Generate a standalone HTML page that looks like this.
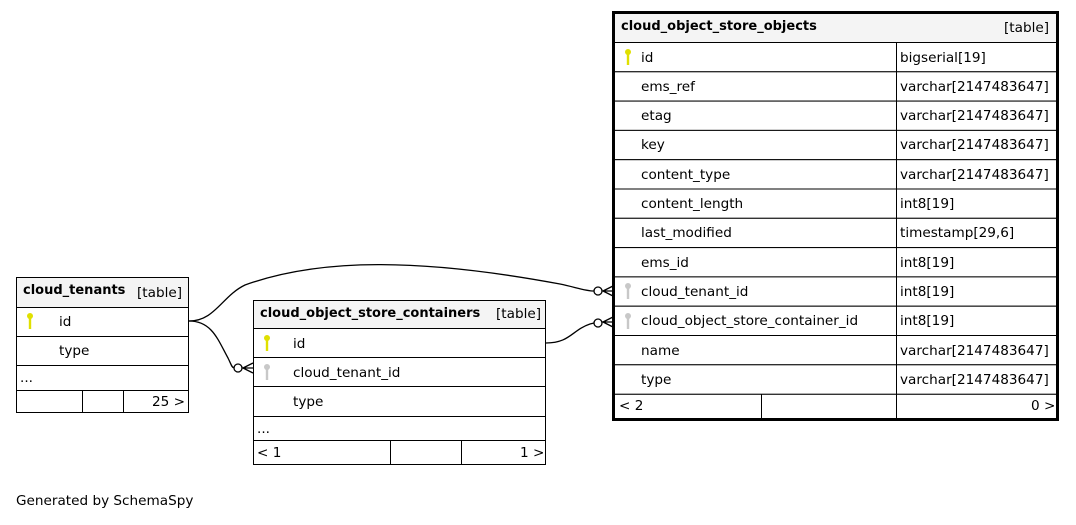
<!DOCTYPE html>
<html><head><meta charset="utf-8"><style>
body{margin:0;background:#fff;width:1076px;height:520px;overflow:hidden}
svg text{font-family:"DejaVu Sans","Liberation Sans",sans-serif;font-size:13.6px;fill:#000}
.b{font-weight:bold;font-size:13px}
</style></head><body>
<svg width="1076" height="520" viewBox="0 0 1076 520" xmlns="http://www.w3.org/2000/svg">
<defs>
<g id="key"><circle cx="0" cy="-4" r="3" fill="currentColor"/><rect x="-1.2" y="-2" width="2.4" height="11" fill="currentColor"/></g>
</defs>
<g fill="none" stroke="#000" stroke-width="1.3">
<path d="M189,321 C215,321 222,296 245,285 C320,258 420,258 560,284 C575,287 585,291 594,291"/>
<circle cx="598" cy="291" r="4" fill="#fff"/>
<path d="M602,291 L613,291 M603,291 L613,286 M603,291 L613,296"/>
<path d="M189,321 C212,321 218,340 228,358 C231,364 232,368 234,368"/>
<circle cx="238" cy="368" r="4" fill="#fff"/>
<path d="M242,368 L253,368 M243,368 L253,363 M243,368 L253,373"/>
<path d="M546,343 C570,343 572,330 590,324 L594,323"/>
<circle cx="598" cy="323" r="4" fill="#fff"/>
<path d="M602,322 L613,322 M603,322 L613,317 M603,322 L613,327"/>
</g>

<g stroke="#000" stroke-width="1" fill="none">
<rect x="16.5" y="277.5" width="172" height="30" fill="#f4f4f4"/>
<rect x="16.5" y="307.5" width="172" height="29" fill="#fff"/>
<rect x="16.5" y="336.5" width="172" height="29" fill="#fff"/>
<rect x="16.5" y="365.5" width="172" height="25" fill="#fff"/>
<rect x="16.5" y="390.5" width="172" height="22" fill="#fff"/>
<path d="M82.5,390.5V412.5M123.5,390.5V412.5"/>
</g>
<text x="23" y="294" class="b">cloud_tenants</text><text x="137" y="297">[table]</text>
<use href="#key" x="30" y="320" style="color:#e0e000"/>
<text x="59" y="326">id</text><text x="59" y="355">type</text>
<text x="20" y="382">...</text><text x="152" y="406">25 &gt;</text>

<g stroke="#000" stroke-width="1" fill="none">
<rect x="253.5" y="300.5" width="292" height="28" fill="#f4f4f4"/>
<rect x="253.5" y="328.5" width="292" height="29" fill="#fff"/>
<rect x="253.5" y="357.5" width="292" height="29" fill="#fff"/>
<rect x="253.5" y="386.5" width="292" height="30" fill="#fff"/>
<rect x="253.5" y="416.5" width="292" height="24" fill="#fff"/>
<rect x="253.5" y="440.5" width="292" height="24" fill="#fff"/>
<path d="M390.5,440.5V464.5M461.5,440.5V464.5"/>
</g>
<text x="260" y="317" class="b">cloud_object_store_containers</text><text x="496" y="318">[table]</text>
<use href="#key" x="267" y="342" style="color:#e0e000"/>
<use href="#key" x="267" y="371" style="color:#c8c8c8"/>
<text x="293" y="348">id</text><text x="293" y="377">cloud_tenant_id</text><text x="293" y="406">type</text>
<text x="257" y="433">...</text><text x="257" y="457">&lt; 1</text><text x="520" y="457">1 &gt;</text>

<g stroke="#000" stroke-width="1" fill="none">
<rect x="613.5" y="12.5" width="444" height="30" fill="#f4f4f4"/>
</g>
<g stroke="#000" stroke-width="1" fill="#fff">
<rect x="613.5" y="42.5" width="444" height="29.3"/>
<rect x="613.5" y="71.8" width="444" height="29.3"/>
<rect x="613.5" y="101.1" width="444" height="29.3"/>
<rect x="613.5" y="130.4" width="444" height="29.3"/>
<rect x="613.5" y="159.7" width="444" height="29.3"/>
<rect x="613.5" y="189" width="444" height="29.3"/>
<rect x="613.5" y="218.3" width="444" height="29.3"/>
<rect x="613.5" y="247.6" width="444" height="29.3"/>
<rect x="613.5" y="276.9" width="444" height="29.3"/>
<rect x="613.5" y="306.2" width="444" height="29.3"/>
<rect x="613.5" y="335.5" width="444" height="29.3"/>
<rect x="613.5" y="364.8" width="444" height="29.5"/>
<rect x="613.5" y="394.3" width="444" height="24.7"/>
<path d="M896.5,42.5V419M761.5,394.3V419" fill="none"/>
</g>
<rect x="613.5" y="12.5" width="444" height="407" fill="none" stroke="#000" stroke-width="3"/>
<text x="621" y="30" class="b">cloud_object_store_objects</text><text x="1004" y="32">[table]</text>
<use href="#key" x="628" y="56" style="color:#e0e000"/>
<use href="#key" x="628" y="290" style="color:#c8c8c8"/>
<use href="#key" x="628" y="320" style="color:#c8c8c8"/>
<g>
<text x="641" y="62">id</text><text x="900" y="62">bigserial[19]</text>
<text x="641" y="91">ems_ref</text><text x="900" y="91">varchar[2147483647]</text>
<text x="641" y="120">etag</text><text x="900" y="120">varchar[2147483647]</text>
<text x="641" y="149">key</text><text x="900" y="149">varchar[2147483647]</text>
<text x="641" y="179">content_type</text><text x="900" y="179">varchar[2147483647]</text>
<text x="641" y="208">content_length</text><text x="900" y="208">int8[19]</text>
<text x="641" y="237">last_modified</text><text x="900" y="237">timestamp[29,6]</text>
<text x="641" y="267">ems_id</text><text x="900" y="267">int8[19]</text>
<text x="641" y="296">cloud_tenant_id</text><text x="900" y="296">int8[19]</text>
<text x="641" y="325">cloud_object_store_container_id</text><text x="900" y="325">int8[19]</text>
<text x="641" y="355">name</text><text x="900" y="355">varchar[2147483647]</text>
<text x="641" y="384">type</text><text x="900" y="384">varchar[2147483647]</text>
<text x="619" y="410">&lt; 2</text><text x="1031" y="410">0 &gt;</text>
</g>
<text x="16" y="505">Generated by SchemaSpy</text>
</svg>
</body></html>
